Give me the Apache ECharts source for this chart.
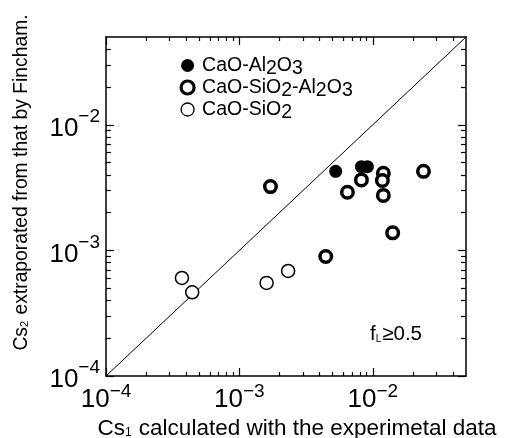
<!DOCTYPE html>
<html>
<head>
<meta charset="utf-8">
<script src="https://cdn.jsdelivr.net/npm/echarts@6/dist/echarts.min.js"></script>
<style>
html,body{margin:0;padding:0;background:#fff;}
#chart{width:512px;height:438px;}
</style>
</head>
<body>
<div id="chart"></div>
<script>
// ---- data ----
const seriesNames = ['CaO-Al2O3', 'CaO-SiO2-Al2O3', 'CaO-SiO2'];
const caoAl2o3 = [[5.27e-3, 4.26e-3], [8.22e-3, 4.64e-3], [9.12e-3, 4.64e-3]];
const caoSio2Al2o3 = [
  [1.71e-3, 3.22e-3], [4.44e-3, 8.95e-4], [6.46e-3, 2.90e-3], [8.22e-3, 3.64e-3],
  [1.20e-2, 4.11e-3], [1.18e-2, 3.60e-3], [1.20e-2, 2.74e-3], [1.41e-2, 1.38e-3],
  [2.40e-2, 4.26e-3]
];
const caoSio2 = [[3.71e-4, 6.03e-4], [4.43e-4, 4.64e-4], [1.60e-3, 5.51e-4], [2.32e-3, 6.86e-4]];
const diagonal = [[1e-4, 1e-4], [5e-2, 5e-2]];
const axisMin = 1e-4, axisMax = 5e-2;
const majorTicks = [1e-4, 1e-3, 1e-2];
const minorTicks = [];
[1e-4, 1e-3, 1e-2].forEach(d => { for (let k = 2; k <= 9; k++) { const v = +(k * d).toPrecision(3); if (v < axisMax) minorTicks.push(v); } });
const xTitle = ['Cs', '1', ' calculated with the experimetal data'];
const yTitle = ['Cs', '2', ' extraporated from that by Fincham.'];
const noteText = ['f', 'L', '≥0.5'];

const FONT = 'Liberation Sans';
const xRich = {
  b: { fontFamily: FONT, fontSize: 26, color: '#000' },
  e: { fontFamily: FONT, fontSize: 19, color: '#000', padding: [0, 0, 16, 0] }
};
const yRich = {
  b: { fontFamily: FONT, fontSize: 26, color: '#000', padding: [8, 0, 0, 0] },
  e: { fontFamily: FONT, fontSize: 19, color: '#000', padding: [0, 0, 16, 0] }
};
function expLabel(v) { return '{b|10}{e|\u2212' + Math.abs(Math.round(Math.log10(v))) + '}'; }

function mkAxis(pos, ticks, len, showLine, label, extra) {
  return Object.assign({
    type: 'log', min: axisMin, max: axisMax, position: pos,
    axisLine: { show: showLine, onZero: false, lineStyle: { color: '#000', width: 1.5 } },
    axisTick: { show: true, inside: true, length: len, customValues: ticks, lineStyle: { color: '#000', width: 1.2 } },
    minorTick: { show: false },
    splitLine: { show: false },
    axisLabel: label || { show: false }
  }, extra || {});
}

const chart = echarts.init(document.getElementById('chart'), null, { renderer: 'canvas' });
chart.setOption({
  backgroundColor: '#fff',
  animation: false,
  grid: { left: 106, right: 46, top: 37, bottom: 62, containLabel: false, outerBoundsMode: 'none' },
  xAxis: [
    mkAxis('bottom', majorTicks, 8, true,
      { show: true, customValues: majorTicks, formatter: expLabel, rich: xRich, margin: 6 },
      {
        name: '{a|' + xTitle[0] + '}{s|' + xTitle[1] + '}{a|' + xTitle[2] + '}',
        nameLocation: 'middle', nameGap: 37,
        nameTextStyle: {
          padding: [0, 0, 0, 22],
          rich: {
            a: { fontFamily: FONT, fontSize: 22.5, color: '#000' },
            s: { fontFamily: FONT, fontSize: 12, color: '#000', padding: [7, 1, 0, 0] }
          }
        }
      }),
    mkAxis('bottom', minorTicks, 4, false),
    mkAxis('top', majorTicks, 8, true),
    mkAxis('top', minorTicks, 4, false)
  ],
  yAxis: [
    mkAxis('left', majorTicks, 8, true,
      { show: true, customValues: majorTicks, formatter: expLabel, rich: yRich, margin: 6 },
      {
        name: '{a|' + yTitle[0] + '}{s|' + yTitle[1] + '}{a|' + yTitle[2] + '}',
        nameLocation: 'middle', nameGap: 75, nameRotate: 90,
        nameTextStyle: {
          padding: [0, 0, 0, 48],
          rich: {
            a: { fontFamily: FONT, fontSize: 19.3, color: '#000' },
            s: { fontFamily: FONT, fontSize: 11, color: '#000', padding: [6, 1, 0, 0] }
          }
        }
      }),
    mkAxis('left', minorTicks, 5, false),
    mkAxis('right', majorTicks, 8, true),
    mkAxis('right', minorTicks, 5, false)
  ],
  legend: {
    orient: 'vertical', left: 179.5, top: 52, itemGap: -5, padding: 0,
    itemWidth: 13, itemHeight: 13,
    textStyle: {
      fontFamily: FONT, fontSize: 19.5, color: '#000', padding: [0, 0, 0, 3],
      rich: { n: { fontFamily: FONT, fontSize: 19.5, color: '#000', lineHeight: 20 },
              d: { fontFamily: FONT, fontSize: 19.5, color: '#000', lineHeight: 20, padding: [7, 0, 0, 0] } }
    },
    formatter: function (name) { return name.split(/(\d)/).filter(s => s).map(s => /\d/.test(s) ? '{d|' + s + '}' : '{n|' + s + '}').join(''); },
    data: [
      { name: seriesNames[0], icon: 'circle', itemStyle: { color: '#000', borderWidth: 0 } },
      { name: seriesNames[1], icon: 'circle', itemStyle: { color: '#fff', borderColor: '#000', borderWidth: 3.2 } },
      { name: seriesNames[2], icon: 'circle', itemStyle: { color: '#fff', borderColor: '#000', borderWidth: 1.3 } }
    ]
  },
  graphic: [{
    type: 'text', left: 370, top: 324,
    style: {
      text: '{a|' + noteText[0] + '}{s|' + noteText[1] + '}{a|' + noteText[2] + '}',
      rich: {
        a: { fontFamily: FONT, fontSize: 20.5, fill: '#000' },
        s: { fontFamily: FONT, fontSize: 10, fill: '#000', padding: [9, 1, 0, 0] }
      }
    }
  }],
  series: [
    { name: 'diag', type: 'line', data: diagonal, symbol: 'none', silent: true,
      lineStyle: { color: '#000', width: 1 }, z: 1 },
    { name: seriesNames[0], type: 'scatter', data: caoAl2o3, symbol: 'circle', symbolSize: 13,
      itemStyle: { color: '#000', opacity: 1 }, z: 3 },
    { name: seriesNames[1], type: 'scatter', data: caoSio2Al2o3, symbol: 'circle', symbolSize: 11.5,
      itemStyle: { color: '#fff', borderColor: '#000', borderWidth: 3.5, opacity: 1 }, z: 3 },
    { name: seriesNames[2], type: 'scatter', data: caoSio2, symbol: 'circle', symbolSize: 13,
      itemStyle: { color: '#fff', borderColor: '#000', borderWidth: 1.5, opacity: 1 }, z: 3 }
  ]
});
</script>
</body>
</html>
